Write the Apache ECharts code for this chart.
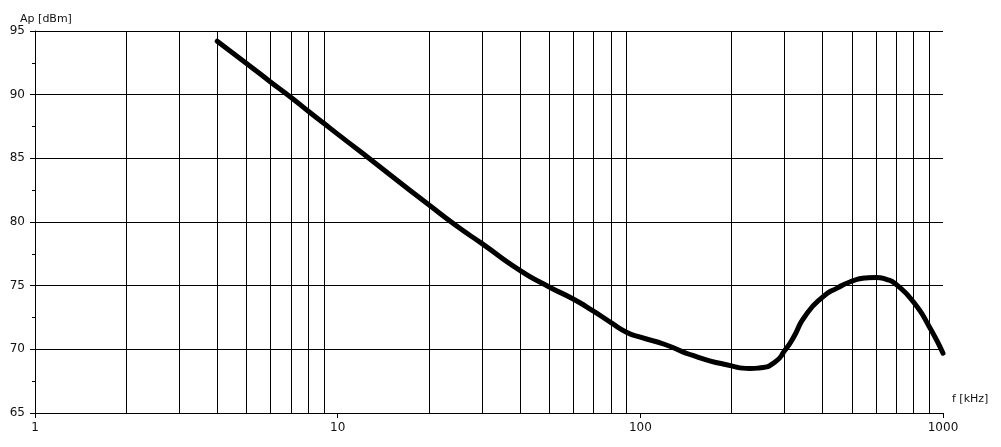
<!DOCTYPE html>
<html>
<head>
<meta charset="utf-8">
<script src="https://cdn.jsdelivr.net/npm/echarts@6/dist/echarts.min.js"></script>
<style>
  html, body { margin: 0; padding: 0; background: #fff; }
  #chart { width: 1001px; height: 447px; }
</style>
</head>
<body>
<div id="chart"></div>
<script>
  // frequency [kHz] and level [dBm]
  const freq = [4, 5, 6, 7, 8, 9, 10, 12, 15, 20, 25, 30, 40, 50, 60, 70, 80, 90, 100,
    120, 150, 200, 230, 250, 280, 300, 320, 350, 400, 450, 500, 550, 600, 650, 700, 800, 900, 1000]
  const ap = [94.2, 92.45, 91.0, 89.8, 88.7, 87.75, 86.9, 85.45, 83.65, 81.35, 79.6, 78.3, 76.2, 74.9, 73.95, 73.0, 72.1, 71.35, 70.95,
    70.4, 69.5, 68.7, 68.5, 68.55, 69.05, 69.9, 70.9, 72.6, 74.1, 74.85, 75.35, 75.6, 75.65, 75.5, 75.1, 73.7, 71.8, 69.7]

  // decade labels and the vertical grid lines in between
  const xTicks = [1, 10, 100, 1000]
  const gridFreq = [2, 3, 4, 5, 6, 7, 8, 9, 20, 30, 40, 50, 60, 70, 80, 90, 200, 300, 400, 500, 600, 700, 800, 900]
  const yMin = 65
  const yMax = 95
  const yStep = 5

  const chart = echarts.init(document.getElementById('chart'))
  const font = 'DejaVu Sans'

  chart.setOption({
    animation: false,
    grid: {
      left: 35,
      right: 58,
      top: 31,
      bottom: 34
    },
    xAxis: {
      type: 'log',
      logBase: 10,
      min: xTicks[0],
      max: xTicks[xTicks.length - 1],
      name: 'f [kHz]',
      nameLocation: 'end',
      nameGap: 9,
      nameTextStyle: {
        color: '#111',
        fontFamily: font,
        fontSize: 11,
        verticalAlign: 'bottom',
        padding: [0, 0, 8, 0]
      },
      axisLine: { show: true, lineStyle: { color: '#000', width: 1 } },
      axisTick: { show: true, length: 5, lineStyle: { color: '#000' } },
      axisLabel: {
        color: '#111',
        fontFamily: font,
        fontSize: 12,
        margin: 9,
        formatter: v => String(v)
      },
      splitLine: { show: false },
      minorTick: { show: false },
      minorSplitLine: { show: false }
    },
    yAxis: {
      type: 'value',
      min: yMin,
      max: yMax,
      interval: yStep,
      name: 'Ap [dBm]',
      nameLocation: 'end',
      nameGap: 6,
      nameTextStyle: {
        color: '#111',
        fontFamily: font,
        fontSize: 11,
        align: 'center',
        padding: [0, 0, 0, 22]
      },
      axisLine: { show: true, lineStyle: { color: '#000', width: 1 } },
      axisTick: { show: true, length: 5, lineStyle: { color: '#000' } },
      minorTick: { show: true, splitNumber: 2, length: 3, lineStyle: { color: '#000' } },
      axisLabel: {
        color: '#111',
        fontFamily: font,
        fontSize: 12,
        margin: 10
      },
      splitLine: { show: true, lineStyle: { color: '#000', width: 1 } }
    },
    series: [
      {
        type: 'line',
        data: freq.map((f, i) => [f, ap[i]]),
        smooth: 0.6,
        symbol: 'none',
        lineStyle: { color: '#000', width: 5, cap: 'round', join: 'round' },
        z: 5,
        markLine: {
          silent: true,
          symbol: 'none',
          label: { show: false },
          lineStyle: { color: '#000', width: 1, type: 'solid' },
          data: gridFreq.map(f => ({ xAxis: f }))
        }
      }
    ]
  })
</script>
</body>
</html>
